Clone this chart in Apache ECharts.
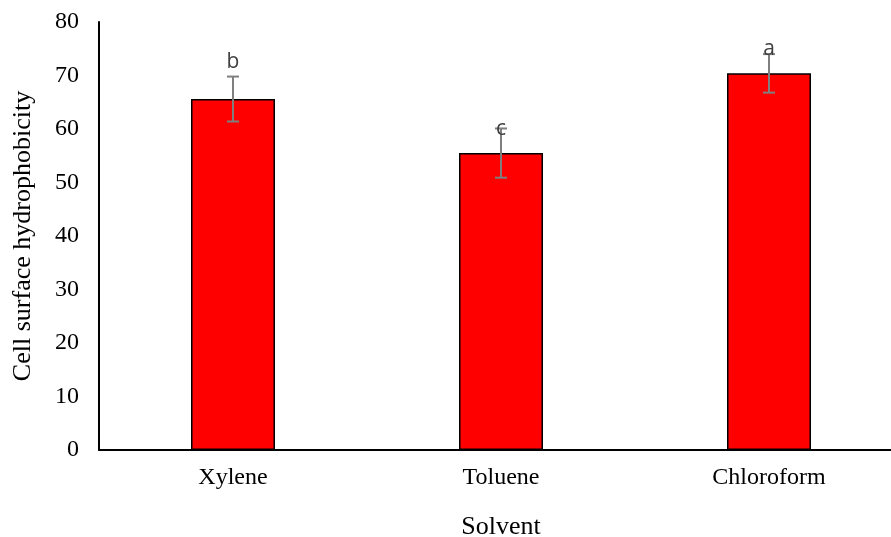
<!DOCTYPE html>
<html>
<head>
<meta charset="utf-8">
<script src="https://cdn.jsdelivr.net/npm/echarts@6/dist/echarts.min.js"></script>
<style>
html,body{margin:0;padding:0;background:#fff;}
#chart{width:891px;height:537px;}
</style>
</head>
<body>
<div id="chart"></div>
<script>
// Solvents and measured cell surface hydrophobicity
var categories = ['Xylene', 'Toluene', 'Chloroform'];
var means = [65.6, 55.5, 70.4];
var errors = [4.2, 4.6, 3.6];
// significance letters and the height (in axis units) where each is written
var letters = ['b', 'c', 'a'];
var letterHeights = [72.5, 60.0, 75.0];
var yTicks = [0, 10, 20, 30, 40, 50, 60, 70, 80];

var serif = '"Liberation Serif", "Times New Roman", serif';

var chart = echarts.init(document.getElementById('chart'));
chart.setOption({
  animation: false,
  backgroundColor: '#fff',
  grid: { left: 99, top: 22, width: 804, height: 428, containLabel: false, outerBoundsMode: 'none' },
  xAxis: {
    type: 'category',
    data: categories,
    name: 'Solvent',
    nameLocation: 'middle',
    nameGap: 64,
    nameTextStyle: { fontFamily: serif, fontSize: 26, color: '#000' },
    axisLine: { lineStyle: { color: '#000', width: 2 } },
    axisTick: { show: false },
    axisLabel: { fontFamily: serif, fontSize: 24, color: '#000', margin: 16 }
  },
  yAxis: {
    type: 'value',
    min: yTicks[0],
    max: yTicks[yTicks.length - 1],
    interval: 10,
    name: 'Cell surface hydrophobicity',
    nameLocation: 'middle',
    nameGap: 63,
    nameTextStyle: { fontFamily: serif, fontSize: 26, color: '#000' },
    axisLine: { show: true, lineStyle: { color: '#000', width: 2 } },
    axisTick: { show: false },
    splitLine: { show: false },
    axisLabel: { fontFamily: serif, fontSize: 24, color: '#000', margin: 20 }
  },
  series: [
    {
      type: 'bar',
      data: means,
      barWidth: 84,
      itemStyle: { color: '#ff0000', borderColor: '#000', borderWidth: 1.5 }
    },
    {
      // error bars with caps
      type: 'custom',
      data: categories.map(function (c, i) { return [i, means[i] - errors[i], means[i] + errors[i]]; }),
      renderItem: function (params, api) {
        var lo = api.coord([api.value(0), api.value(1)]);
        var hi = api.coord([api.value(0), api.value(2)]);
        var cap = 6;
        var style = { stroke: '#7f7f7f', lineWidth: 2 };
        return {
          type: 'group',
          children: [
            { type: 'line', shape: { x1: lo[0], y1: lo[1], x2: hi[0], y2: hi[1] }, style: style },
            { type: 'line', shape: { x1: lo[0] - cap, y1: lo[1], x2: lo[0] + cap, y2: lo[1] }, style: style },
            { type: 'line', shape: { x1: hi[0] - cap, y1: hi[1], x2: hi[0] + cap, y2: hi[1] }, style: style }
          ]
        };
      },
      z: 5
    },
    {
      // significance letters
      type: 'custom',
      data: categories.map(function (c, i) { return [i, letterHeights[i]]; }),
      renderItem: function (params, api) {
        var p = api.coord([api.value(0), api.value(1)]);
        return {
          type: 'text',
          style: {
            text: letters[params.dataIndex],
            x: p[0], y: p[1],
            align: 'center', verticalAlign: 'middle',
            fontFamily: '"Open Sans", "Liberation Sans", sans-serif',
            fontSize: 21,
            fill: '#404040'
          }
        };
      },
      z: 6
    }
  ]
});
</script>
</body>
</html>
